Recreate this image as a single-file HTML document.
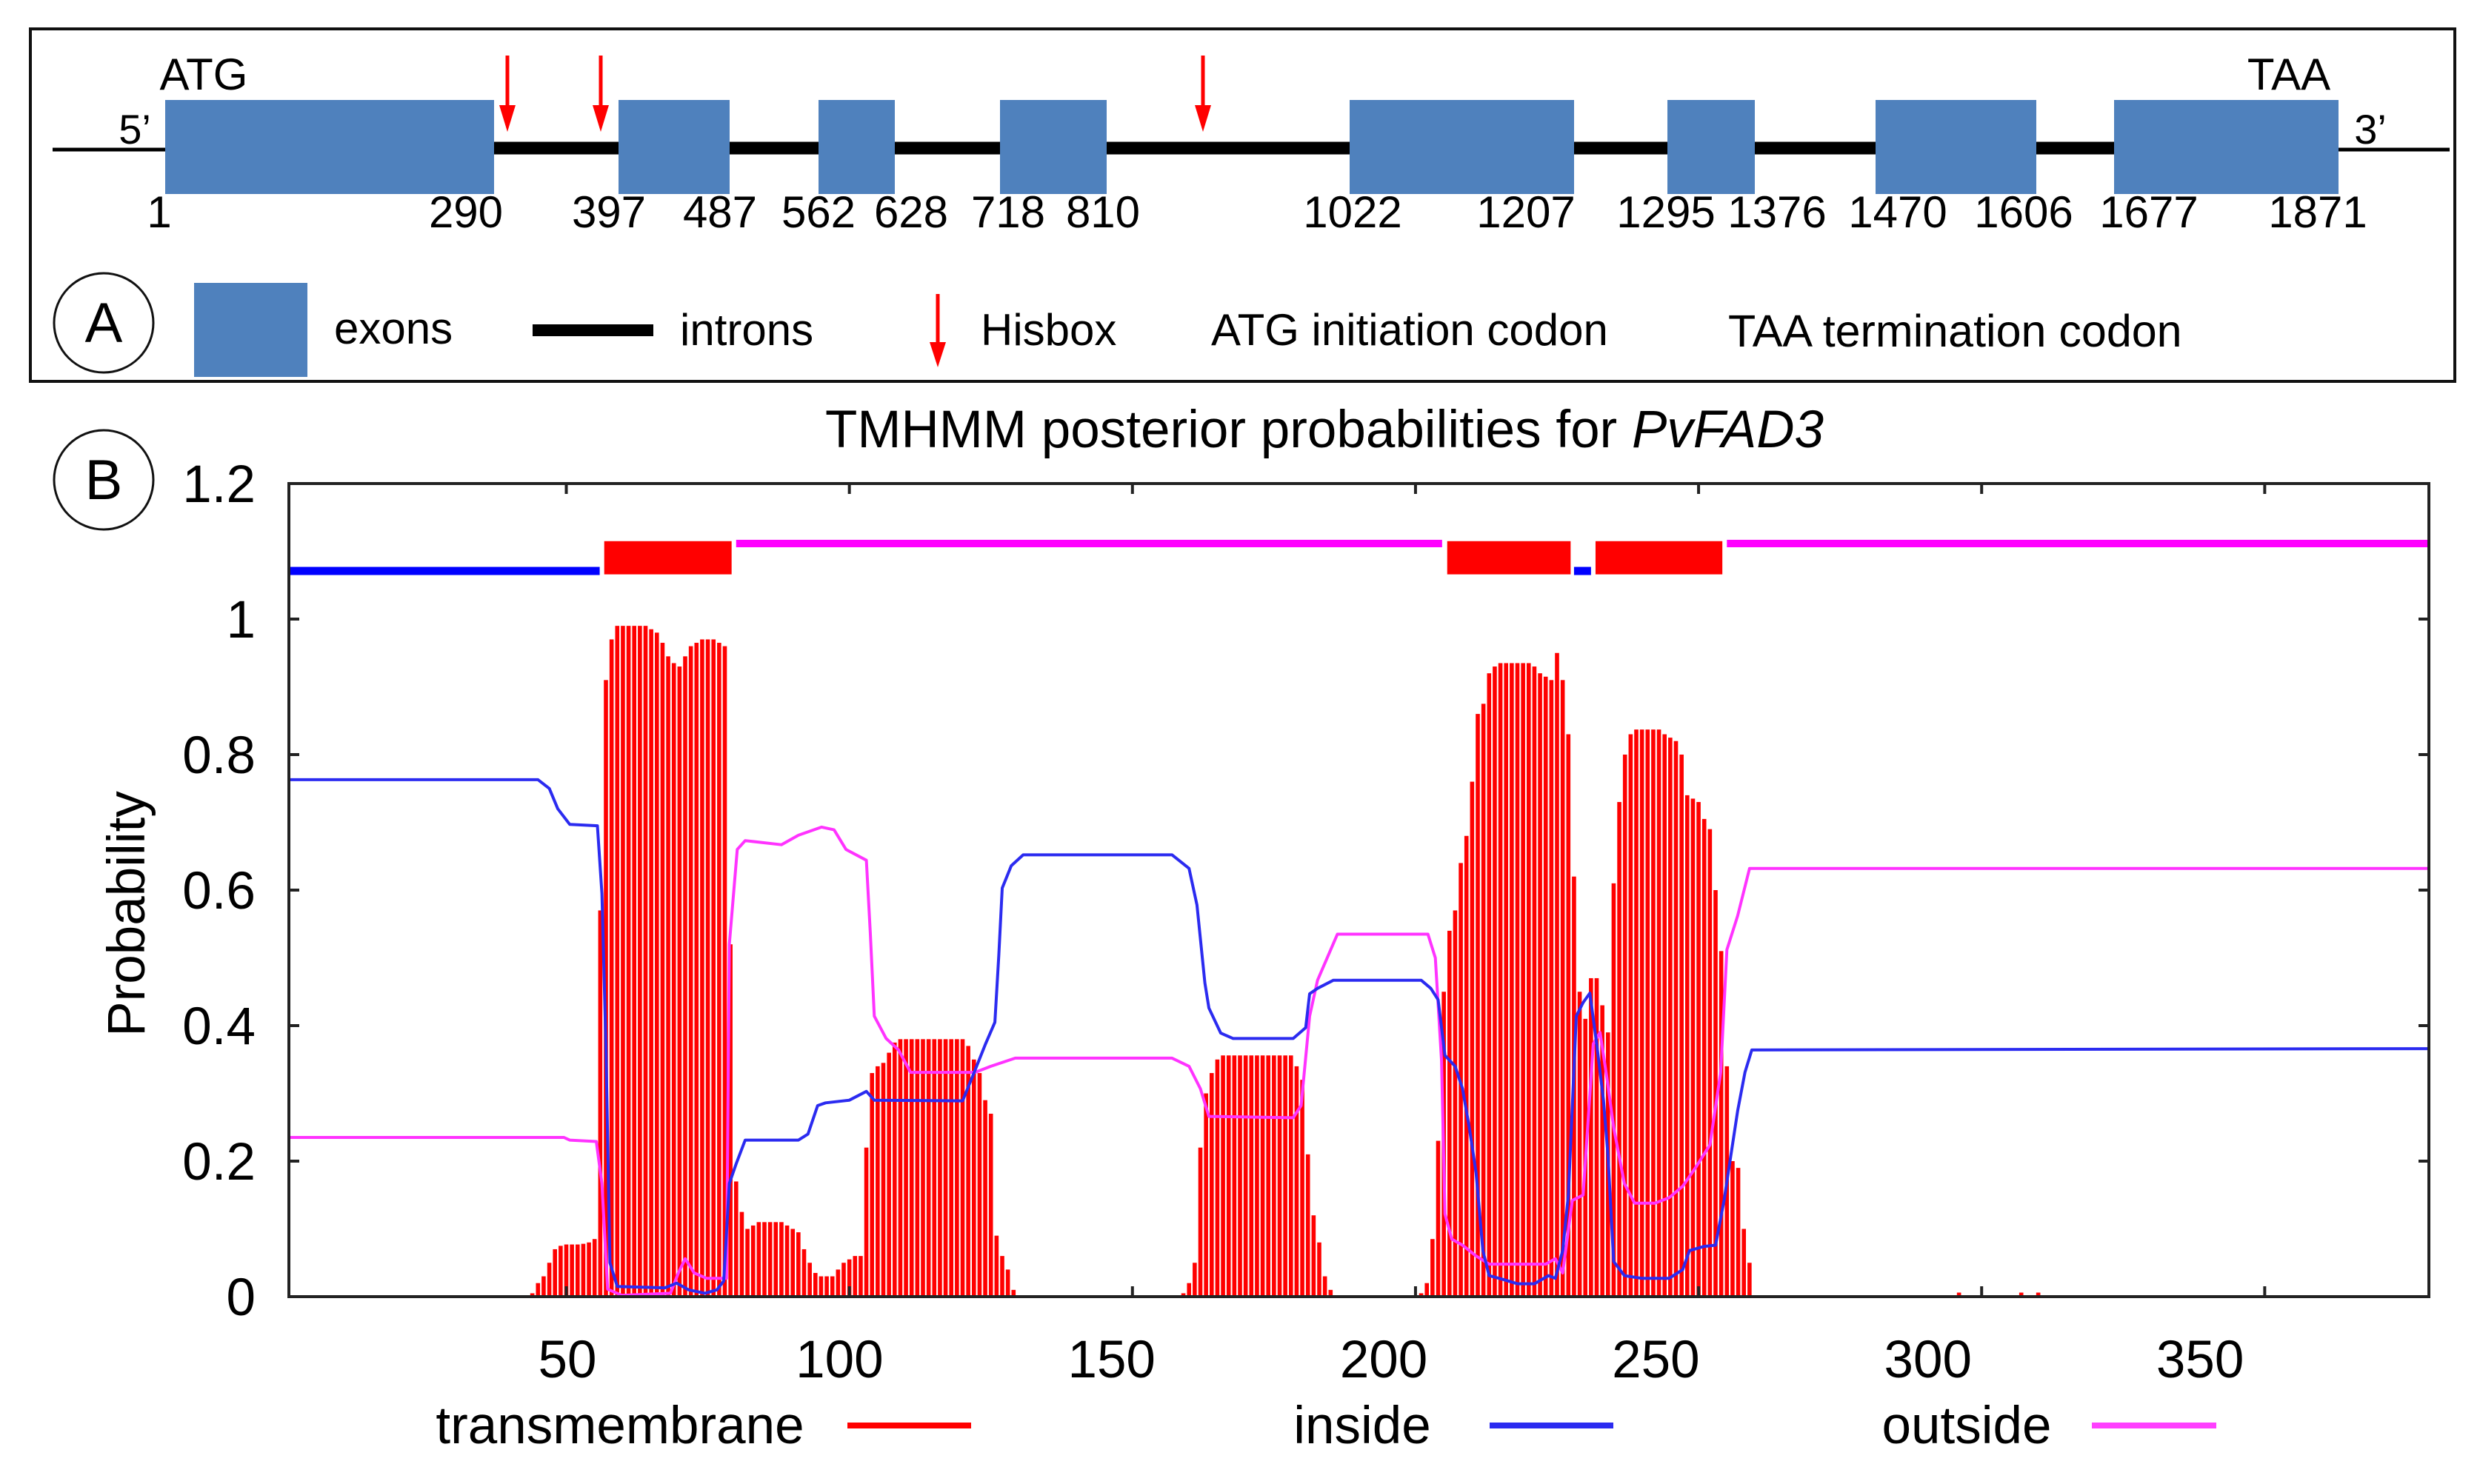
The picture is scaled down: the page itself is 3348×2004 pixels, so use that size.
<!DOCTYPE html>
<html><head><meta charset="utf-8"><style>
html,body{margin:0;padding:0;background:#fff;}
svg{display:block;font-family:"Liberation Sans",Arial,sans-serif;}
</style></head><body>
<svg id="fig" width="3348" height="2004" viewBox="0 0 3348 2004" xmlns="http://www.w3.org/2000/svg">
<rect x="0" y="0" width="3348" height="2004" fill="#fff"/>
<g id="panelA">
 <rect x="41" y="39" width="3273" height="476" fill="none" stroke="#111" stroke-width="4"/>
 <line x1="71" y1="202" x2="223" y2="202" stroke="#000" stroke-width="5"/>
 <line x1="3157" y1="202" x2="3307" y2="202" stroke="#000" stroke-width="5"/>
 <line x1="667" y1="200" x2="2854" y2="200" stroke="#000" stroke-width="17"/>
 <g id="exons"></g>
 <g id="arrows"></g>
 <g id="exonNums" font-size="60" text-anchor="middle"></g>
 <text x="275" y="121" font-size="60" text-anchor="middle">ATG</text>
 <text x="3090" y="121" font-size="60" text-anchor="middle">TAA</text>
 <text x="182" y="194" font-size="56" text-anchor="middle">5’</text>
 <text x="3200" y="194" font-size="56" text-anchor="middle">3’</text>
 <circle cx="140" cy="436" r="67" fill="#fff" stroke="#111" stroke-width="3"/>
 <text x="140" y="462" font-size="76" text-anchor="middle">A</text>
 <rect x="262" y="382" width="153" height="127" fill="#4f81bd"/>
 <text x="451" y="464" font-size="60">exons</text>
 <line x1="719" y1="446" x2="882" y2="446" stroke="#000" stroke-width="16"/>
 <text x="918" y="466" font-size="60">introns</text>
 <line x1="1266" y1="397" x2="1266" y2="470" stroke="#f00" stroke-width="5"/>
 <polygon points="1255,462 1277,462 1266,496" fill="#f00"/>
 <text x="1324" y="466" font-size="60">Hisbox</text>
 <text x="1635" y="466" font-size="60">ATG initiation codon</text>
 <text x="2333" y="468" font-size="61">TAA termination  codon</text>
</g>
<g id="panelB">
 <circle cx="140" cy="648" r="67" fill="#fff" stroke="#111" stroke-width="3"/>
 <text x="140" y="674" font-size="76" text-anchor="middle">B</text>
 <text x="1788" y="604" font-size="71" text-anchor="middle">TMHMM posterior probabilities for <tspan font-style="italic">PvFAD3</tspan></text>
 <g id="bars"></g>
 <g id="lines"></g>
 <g id="topo"></g>
 <g id="axes"></g>
 <text transform="translate(195,1234) rotate(-90)" font-size="71" text-anchor="middle">Probability</text>
 <text x="837" y="1949" font-size="71" text-anchor="middle">transmembrane</text>
 <line x1="1144" y1="1925" x2="1311" y2="1925" stroke="#f00" stroke-width="8"/>
 <text x="1839" y="1949" font-size="71" text-anchor="middle">inside</text>
 <line x1="2011" y1="1925" x2="2178" y2="1925" stroke="#2b2bf0" stroke-width="8"/>
 <text x="2655" y="1949" font-size="71" text-anchor="middle">outside</text>
 <line x1="2824" y1="1925" x2="2992" y2="1925" stroke="#ff40ff" stroke-width="8"/>
</g>
</svg>
<script>
// ---- Panel A data ----
const exonStarts = [1, 397, 562, 718, 1022, 1295, 1470, 1677];
const exonEnds = [290, 487, 628, 810, 1207, 1376, 1606, 1871];
const exonPx0 = [223, 835, 1105, 1350, 1822, 2251, 2532, 2854];
const exonPx1 = [667, 985, 1208, 1494, 2125, 2369, 2749, 3157];
const numberLabels = ["1","290","397","487","562","628","718","810","1022","1207","1295","1376","1470","1606","1677","1871"];
const numberX = [215,629,822,972,1105,1230,1361,1489,1826,2060,2249,2399,2562,2732,2901,3129];
const hisboxX = [685, 811, 1624];

// ---- Panel B data ----
const tmFirstResidue = 44;
const tmValues = [0.005,0.02,0.03,0.05,0.07,0.075,0.077,0.077,0.077,0.078,0.08,0.085,0.57,0.91,0.97,0.99,0.99,0.99,0.99,0.99,0.99,0.985,0.98,0.965,0.945,0.935,0.93,0.945,0.96,0.965,0.97,0.97,0.97,0.965,0.96,0.52,0.17,0.125,0.1,0.105,0.11,0.11,0.11,0.11,0.11,0.105,0.1,0.095,0.07,0.05,0.035,0.03,0.03,0.03,0.04,0.05,0.055,0.06,0.06,0.22,0.33,0.34,0.345,0.36,0.375,0.38,0.38,0.38,0.38,0.38,0.38,0.38,0.38,0.38,0.38,0.38,0.38,0.37,0.35,0.33,0.29,0.27,0.09,0.06,0.04,0.01,
0,0,0,0,0,0,0,0,0,0,0,0,0,0,0,0,0,0,0,0,0,0,0,0,0,0,0,0,0,
0.005,0.02,0.05,0.22,0.3,0.33,0.35,0.356,0.356,0.356,0.356,0.356,0.356,0.356,0.356,0.356,0.356,0.356,0.356,0.356,0.34,0.32,0.21,0.12,0.08,0.03,0.01,
0,0,0,0,0,0,0,0,0,0,0,0,0,0,0,
0.005,0.02,0.085,0.23,0.45,0.54,0.57,0.64,0.68,0.76,0.86,0.875,0.92,0.93,0.935,0.935,0.935,0.935,0.935,0.935,0.93,0.92,0.915,0.91,0.95,0.91,0.83,0.62,0.45,0.41,0.47,0.47,0.43,0.39,0.61,0.73,0.8,0.83,0.837,0.837,0.837,0.837,0.837,0.83,0.825,0.82,0.8,0.74,0.735,0.73,0.705,0.69,0.6,0.51,0.34,0.2,0.19,0.1,0.05];
const tmExtraResidues = [296, 307, 310];
const tmExtraValues = [0.006, 0.006, 0.006];

const insideRes = [1,45,47,48.5,50.6,55.5,56.3,57,57.7,59,67.4,69.5,71.6,74.5,76.6,77.8,78.8,80,81.6,91,92.7,94.4,95.8,100,103,104.4,120,122,124,125.7,126.4,127,128.6,130.7,157,160,161.4,162.8,163.5,165.6,167.8,178.4,180.6,181.3,182.7,185.5,201,202.7,204,205.2,207,208.3,209.5,210.7,211.9,213,215.6,218,221,223.5,224.7,226,227,228.4,229.6,230.8,232,233.2,234,235,236.9,240,244.8,247.2,248.4,250.9,253,254.5,255.7,256.9,258.2,259.4,379];
const insideVal = [0.763,0.763,0.75,0.72,0.697,0.695,0.595,0.37,0.05,0.015,0.013,0.02,0.01,0.005,0.01,0.023,0.167,0.196,0.231,0.231,0.24,0.282,0.286,0.29,0.303,0.29,0.289,0.33,0.372,0.405,0.504,0.603,0.636,0.652,0.652,0.632,0.578,0.463,0.426,0.389,0.381,0.381,0.397,0.447,0.455,0.467,0.467,0.455,0.438,0.356,0.34,0.307,0.25,0.183,0.068,0.031,0.025,0.019,0.019,0.031,0.027,0.068,0.15,0.414,0.434,0.448,0.373,0.29,0.208,0.052,0.031,0.027,0.027,0.04,0.068,0.074,0.076,0.142,0.208,0.274,0.331,0.364,0.366];

const outsideRes = [1,49.6,50.6,55.3,56.3,57.3,59.8,68.4,69.8,71,72.6,74.8,78.3,78.8,80.2,81.6,88,91,95.1,97.3,99.4,103,103.7,104.4,106.5,108.7,110.8,122.2,125,129.3,157,160,162,163.5,178.4,179.8,181.3,182.7,186.2,202.2,203.5,204.6,205.2,206.4,208.3,210.7,213,223,224.7,226,227.7,229.6,231.4,232.6,233.8,235,236.9,238.7,242.3,244.8,247.2,249.6,252,253.9,255,256.9,259,379];
const outsideVal = [0.235,0.235,0.231,0.229,0.167,0.011,0.002,0.005,0.035,0.056,0.035,0.027,0.027,0.52,0.66,0.673,0.667,0.681,0.693,0.689,0.66,0.644,0.537,0.414,0.381,0.364,0.331,0.331,0.34,0.352,0.352,0.34,0.307,0.266,0.264,0.282,0.414,0.467,0.535,0.535,0.5,0.348,0.122,0.085,0.076,0.06,0.048,0.048,0.056,0.035,0.142,0.15,0.373,0.39,0.323,0.25,0.167,0.138,0.138,0.146,0.163,0.192,0.224,0.331,0.512,0.562,0.632,0.632];

const topoStart = [1, 56.7, 80, 205.6, 228, 231.8, 255];
const topoEnd = [55.9, 79.2, 204.7, 227.4, 231, 254.2, 379];
const topoType = ["inside","tm","outside","tm","inside","tm","outside"];

const yTicks = [0, 0.2, 0.4, 0.6, 0.8, 1, 1.2];
const yTickLabels = ["0","0.2","0.4","0.6","0.8","1","1.2"];
const xTicks = [50, 100, 150, 200, 250, 300, 350];
const xTickLabels = ["50","100","150","200","250","300","350"];

const NS = "http://www.w3.org/2000/svg";
const PL = 390, PR = 3279, PT = 653, PB = 1751;
const XMIN = 1, XMAX = 379, YMAX = 1.2;
function xs(v){ return PL + (v - XMIN) * (PR - PL) / (XMAX - XMIN); }
function ys(v){ return PB - v * (PB - PT) / YMAX; }
function xlab(v){ return 766 + (v - 50) * 7.347; }
function mk(tag, attrs, parent){ const e = document.createElementNS(NS, tag); for (const k in attrs) e.setAttribute(k, attrs[k]); parent.appendChild(e); return e; }

// Panel A
const gEx = document.getElementById('exons');
for (let i = 0; i < exonStarts.length; i++) {
  const r = mk('rect', {x: exonPx0[i], y: 135, width: exonPx1[i] - exonPx0[i], height: 127, fill: '#4f81bd'}, gEx);
  
  
}
const gAr = document.getElementById('arrows');
hisboxX.forEach((x, i) => {
  const l = mk('line', {x1: x, y1: 75, x2: x, y2: 150, stroke: '#f00', 'stroke-width': 5}, gAr);
  
  
  const p = mk('polygon', {points: (x-11)+',142 '+(x+11)+',142 '+x+',178', fill: '#f00'}, gAr);
  
  
});
const gN = document.getElementById('exonNums');
numberLabels.forEach((t, i) => {
  const e = mk('text', {x: numberX[i], y: 307}, gN);
  e.textContent = t;
  
  
});

// Panel B bars
const gB = document.getElementById('bars');
function bar(r, v){
  if (v <= 0) return;
  const b = mk('rect', {x: xs(r) - 2.8, y: ys(v), width: 5.6, height: PB - ys(v), fill: '#ff0000'}, gB);
  
  
}
tmValues.forEach((v, i) => bar(tmFirstResidue + i, v));
tmExtraResidues.forEach((r, i) => bar(r, tmExtraValues[i]));

// lines
const gL = document.getElementById('lines');
function line(res, vals, color, name){
  let d = '';
  res.forEach((r, i) => { d += (i ? 'L' : 'M') + xs(r).toFixed(1) + ' ' + ys(vals[i]).toFixed(1); });
  const p = mk('path', {d: d, fill: 'none', stroke: color, 'stroke-width': 4, 'stroke-linejoin': 'round'}, gL);
  
  
}
line(outsideRes, outsideVal, '#ff33ff', 'outside-line');
line(insideRes, insideVal, '#2b2bf0', 'inside-line');

// topology
const gT = document.getElementById('topo');
topoType.forEach((t, i) => {
  const x0 = xs(topoStart[i]), x1 = xs(topoEnd[i]);
  let e;
  if (t === 'tm') e = mk('rect', {x: x0, y: ys(1.115), width: x1 - x0, height: ys(1.066) - ys(1.115), fill: '#ff0000'}, gT);
  else if (t === 'inside') e = mk('rect', {x: x0, y: ys(1.077), width: x1 - x0, height: ys(1.065) - ys(1.077), fill: '#0000ff'}, gT);
  else e = mk('rect', {x: x0, y: ys(1.117), width: x1 - x0, height: ys(1.106) - ys(1.117), fill: '#ff00ff'}, gT);
  
  
});

// axes
const gA = document.getElementById('axes');
const fr = mk('rect', {x: PL, y: PT, width: PR - PL, height: PB - PT, fill: 'none', stroke: '#222', 'stroke-width': 4}, gA);


yTicks.forEach((v, i) => {
  const y = ys(v);
  const t1 = mk('line', {x1: PL, y1: y, x2: PL + 14, y2: y, stroke: '#222', 'stroke-width': 4}, gA);
  
  
  const t2 = mk('line', {x1: PR - 14, y1: y, x2: PR, y2: y, stroke: '#222', 'stroke-width': 4}, gA);
  
  
  const l = mk('text', {x: 345, y: y + 25, 'font-size': 71, 'text-anchor': 'end'}, gA);
  l.textContent = yTickLabels[i];
  
  
});
xTicks.forEach((v, i) => {
  const x = xs(v);
  const t1 = mk('line', {x1: x, y1: PB, x2: x, y2: PB - 14, stroke: '#222', 'stroke-width': 4}, gA);
  
  
  const t2 = mk('line', {x1: x, y1: PT, x2: x, y2: PT + 14, stroke: '#222', 'stroke-width': 4}, gA);
  
  
  const l = mk('text', {x: xlab(v), y: 1860, 'font-size': 71, 'text-anchor': 'middle'}, gA);
  l.textContent = xTickLabels[i];
  
  
});
</script>
</body></html>
